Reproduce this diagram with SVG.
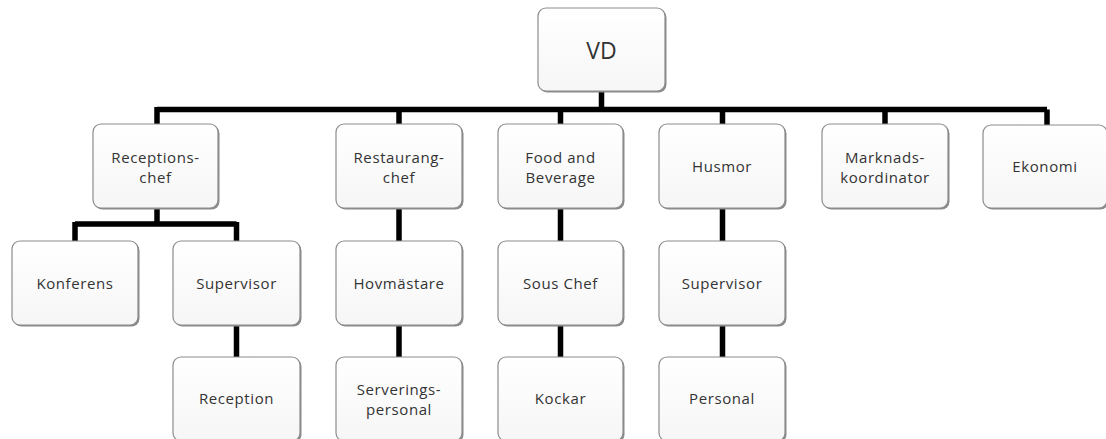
<svg xmlns="http://www.w3.org/2000/svg" width="1106" height="439" viewBox="0 0 1106 439">
<style>
.box{fill:url(#g);stroke:#8c8c8c;stroke-width:1.2}
.sh{fill:#8a8a8a}
.t{font-family:"Open Sans","Liberation Sans",sans-serif;font-size:15px;letter-spacing:0.6px;fill:#333;text-anchor:middle;dominant-baseline:central}
.c{fill:none;stroke:#000;stroke-width:5.5}
</style>
<defs>
<linearGradient id="g" x1="0" y1="0" x2="0" y2="1">
<stop offset="0" stop-color="#ffffff"/>
<stop offset="1" stop-color="#f6f6f6"/>
</linearGradient>
</defs>
<rect width="1106" height="439" fill="#fff"/>
<g id="connectors">
<path class="c" d="M601.5 91 V109.5 M157 109.5 H1047 M157 107 V124 M399 109.5 V124 M560.5 109.5 V124 M722.5 109.5 V124 M885 109.5 V124 M1047 109.5 V125"/>
<path class="c" d="M157 208 V224 M75 224 H236.5 M75 222 V241 M236.5 222 V241 M236.5 325 V357"/>
<path class="c" d="M399 208 V241 M399 325 V357"/>
<path class="c" d="M560.5 208 V241 M560.5 325 V357"/>
<path class="c" d="M722.5 208 V241 M722.5 325 V357"/>
</g>
<g id="vd"><rect class="sh" x="539.5" y="9.5" width="127" height="83" rx="8"/><rect class="box" x="538" y="8" width="127" height="83" rx="8"/><text class="t" x="601.5" y="50" style="font-size:23px;letter-spacing:0">VD</text></g>
<g id="receptionschef"><rect class="sh" x="94.5" y="125.5" width="125" height="84" rx="8"/><rect class="box" x="93" y="124" width="125" height="84" rx="8"/><text class="t" x="155.5" y="157">Receptions-</text><text class="t" x="155.5" y="177">chef</text></g>
<g id="restaurangchef"><rect class="sh" x="337.5" y="125.5" width="126" height="84" rx="8"/><rect class="box" x="336" y="124" width="126" height="84" rx="8"/><text class="t" x="399" y="157">Restaurang-</text><text class="t" x="399" y="177">chef</text></g>
<g id="food"><rect class="sh" x="499.5" y="125.5" width="125" height="84" rx="8"/><rect class="box" x="498" y="124" width="125" height="84" rx="8"/><text class="t" x="560.5" y="157">Food and</text><text class="t" x="560.5" y="177">Beverage</text></g>
<g id="husmor"><rect class="sh" x="660.5" y="125.5" width="126" height="84" rx="8"/><rect class="box" x="659" y="124" width="126" height="84" rx="8"/><text class="t" x="722" y="166">Husmor</text></g>
<g id="marknad"><rect class="sh" x="823.5" y="125.5" width="126" height="84" rx="8"/><rect class="box" x="822" y="124" width="126" height="84" rx="8"/><text class="t" x="885" y="157">Marknads-</text><text class="t" x="885" y="177">koordinator</text></g>
<g id="ekonomi"><rect class="sh" x="984.5" y="126.5" width="124" height="83" rx="8"/><rect class="box" x="983" y="125" width="124" height="83" rx="8"/><text class="t" x="1045" y="166">Ekonomi</text></g>
<g id="konferens"><rect class="sh" x="13.5" y="242.5" width="126" height="84" rx="8"/><rect class="box" x="12" y="241" width="126" height="84" rx="8"/><text class="t" x="75" y="283">Konferens</text></g>
<g id="supervisor1"><rect class="sh" x="174.5" y="242.5" width="127" height="84" rx="8"/><rect class="box" x="173" y="241" width="127" height="84" rx="8"/><text class="t" x="236.5" y="283">Supervisor</text></g>
<g id="hovmastare"><rect class="sh" x="337.5" y="242.5" width="126" height="84" rx="8"/><rect class="box" x="336" y="241" width="126" height="84" rx="8"/><text class="t" x="399" y="283">Hovmästare</text></g>
<g id="souschef"><rect class="sh" x="499.5" y="242.5" width="125" height="84" rx="8"/><rect class="box" x="498" y="241" width="125" height="84" rx="8"/><text class="t" x="560.5" y="283">Sous Chef</text></g>
<g id="supervisor2"><rect class="sh" x="660.5" y="242.5" width="126" height="84" rx="8"/><rect class="box" x="659" y="241" width="126" height="84" rx="8"/><text class="t" x="722" y="283">Supervisor</text></g>
<g id="reception"><rect class="sh" x="174.5" y="358.5" width="127" height="84" rx="8"/><rect class="box" x="173" y="357" width="127" height="84" rx="8"/><text class="t" x="236.5" y="398">Reception</text></g>
<g id="servering"><rect class="sh" x="337.5" y="358.5" width="126" height="84" rx="8"/><rect class="box" x="336" y="357" width="126" height="84" rx="8"/><text class="t" x="399" y="389">Serverings-</text><text class="t" x="399" y="409">personal</text></g>
<g id="kockar"><rect class="sh" x="499.5" y="358.5" width="125" height="84" rx="8"/><rect class="box" x="498" y="357" width="125" height="84" rx="8"/><text class="t" x="560.5" y="398">Kockar</text></g>
<g id="personal"><rect class="sh" x="660.5" y="358.5" width="126" height="84" rx="8"/><rect class="box" x="659" y="357" width="126" height="84" rx="8"/><text class="t" x="722" y="398">Personal</text></g>
</svg>
